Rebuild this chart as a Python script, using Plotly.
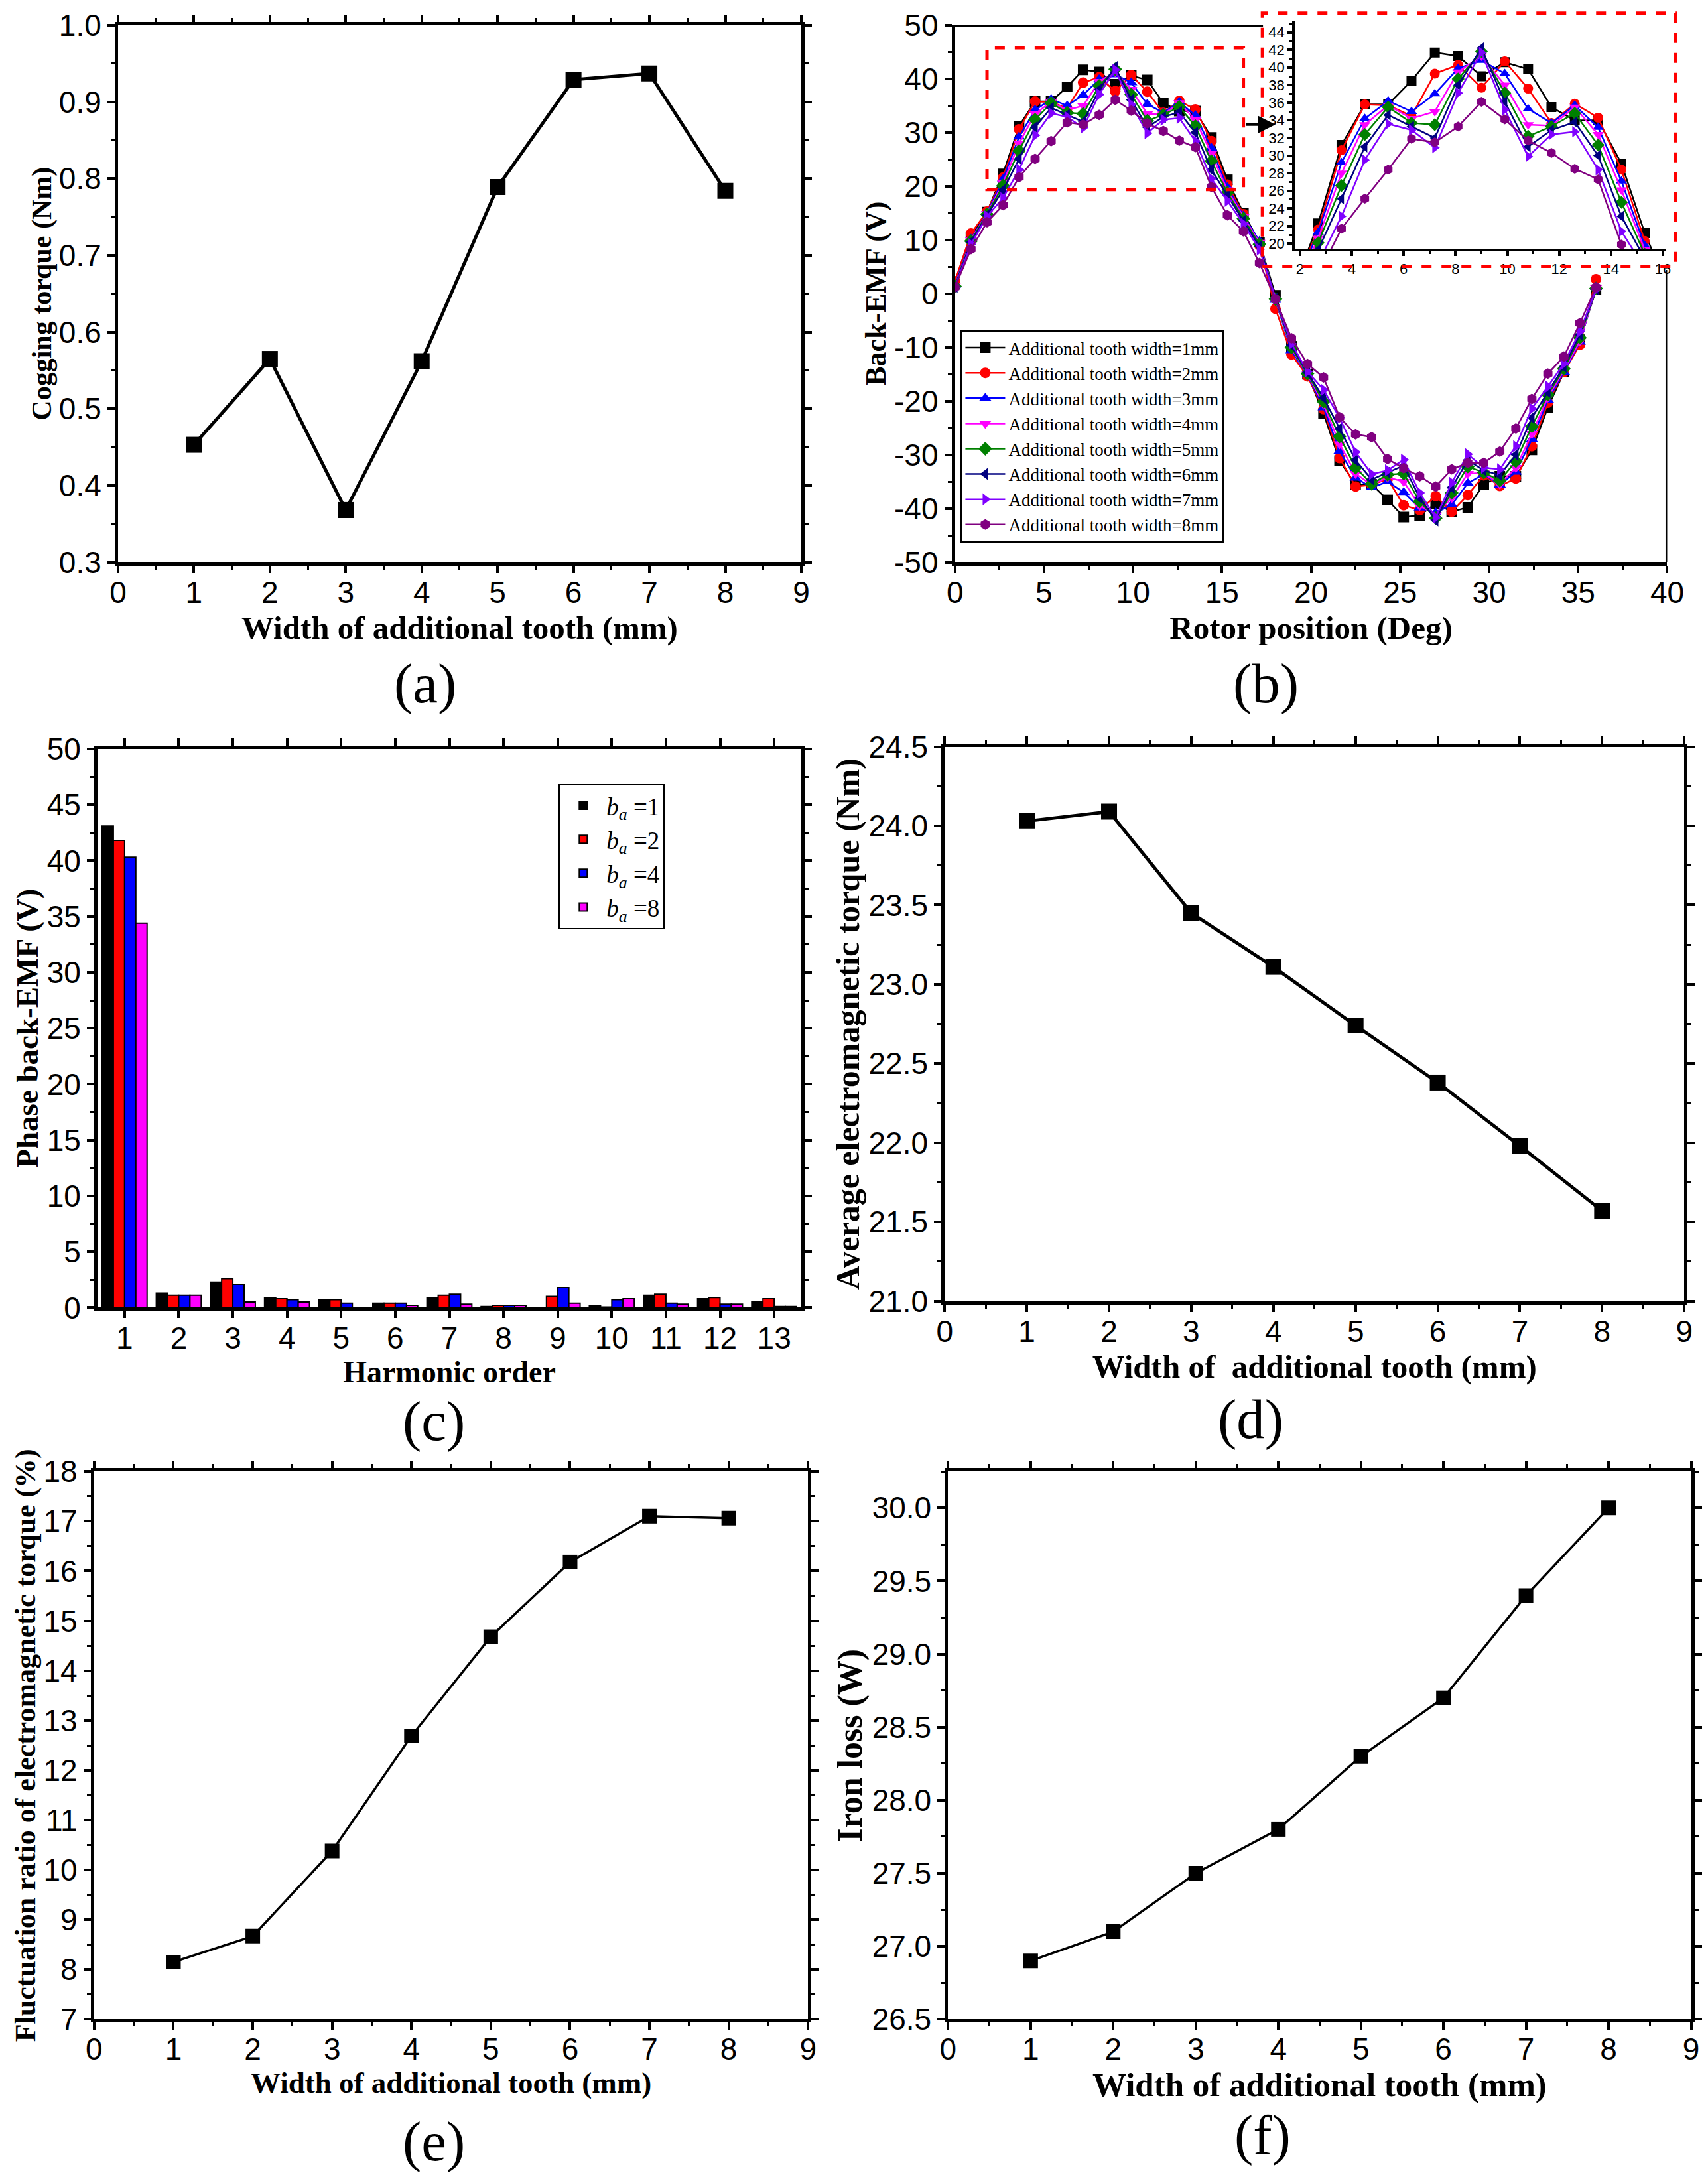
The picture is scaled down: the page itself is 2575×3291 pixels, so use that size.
import plotly.graph_objects as go

# (a), (d), (e), (f): quantities vs width of additional tooth
widths = [1, 2, 3, 4, 5, 6, 7, 8]
cogging_torque = [0.453, 0.565, 0.368, 0.562, 0.789, 0.929, 0.937, 0.784]
avg_torque = [24.03, 24.09, 23.45, 23.11, 22.74, 22.38, 21.98, 21.57]
fluct_ratio = [8.15, 8.67, 10.38, 12.69, 14.68, 16.18, 17.10, 17.06]
iron_loss = [26.9, 27.1, 27.5, 27.8, 28.3, 28.7, 29.4, 30.0]

# (b): back-EMF waveforms
rotor_pos = [0.0, 0.9, 1.8, 2.7, 3.6, 4.5, 5.4, 6.3, 7.2, 8.1, 9.0, 9.9, 10.8, 11.7,
             12.6, 13.5, 14.4, 15.3, 16.2, 17.1, 18.0, 18.9, 19.8, 20.7, 21.6, 22.5,
             23.4, 24.3, 25.2, 26.1, 27.0, 27.9, 28.8, 29.7, 30.6, 31.5, 32.4, 33.3,
             34.2, 35.1, 36.0]
emf_1mm = [1.8, 10.6, 15.2, 22.3, 31.2, 35.8, 35.8, 38.5, 41.7, 41.3, 39.0, 40.6, 39.8, 35.5,
           34.0, 34.0, 29.1, 21.2, 15.0, 9.6, -0.3,
           -9.8, -15.0, -22.3, -31.1, -35.6, -35.5, -38.4, -41.6, -41.3, -39.1, -40.6, -39.8,
           -35.5, -34.0, -34.0, -29.1, -21.2, -14.6, -8.6, 0.7]
emf_2mm = [2.3, 11.2, 15.3, 21.6, 30.6, 35.8, 35.7, 34.5, 39.3, 40.3, 37.7, 40.7, 37.6, 33.7,
           35.9, 34.3, 28.4, 20.3, 14.8, 9.0, -2.8,
           -11.3, -15.4, -21.5, -30.6, -35.9, -35.6, -34.5, -39.4, -40.3, -37.7, -40.6, -37.5,
           -33.8, -35.8, -34.4, -28.4, -20.3, -14.6, -9.5, 2.7]
emf_3mm = [1.6, 10.2, 15.0, 21.3, 29.2, 34.2, 36.2, 35.0, 37.0, 39.9, 40.8, 39.3, 35.3, 33.7,
           35.7, 33.2, 27.1, 19.8, 14.5, 9.8, -1.2,
           -10.6, -15.1, -21.2, -29.3, -34.3, -36.1, -35.0, -37.0, -39.9, -40.8, -39.3, -35.3,
           -33.6, -35.6, -33.2, -27.1, -19.8, -14.6, -9.0, 1.2]
emf_4mm = [1.5, 10.0, 14.9, 20.6, 28.0, 33.5, 35.7, 34.2, 35.0, 39.5, 41.3, 38.0, 33.5, 33.4,
           35.5, 32.4, 26.1, 19.3, 14.3, 9.5, -1.1,
           -10.2, -15.0, -20.6, -28.0, -33.5, -35.6, -34.2, -35.0, -39.5, -41.2, -38.0, -33.5,
           -33.4, -35.5, -32.4, -26.1, -19.3, -14.3, -8.8, 1.1]
emf_5mm = [1.4, 9.8, 14.8, 20.1, 26.6, 32.4, 35.5, 33.7, 33.5, 38.7, 41.8, 37.1, 32.2, 33.3,
           34.8, 31.2, 24.7, 18.8, 14.0, 9.2, -1.0,
           -10.0, -14.9, -20.1, -26.6, -32.4, -35.4, -33.7, -33.5, -38.7, -41.8, -37.1, -32.2,
           -33.3, -34.8, -31.2, -24.7, -18.8, -14.0, -8.2, 1.0]
emf_6mm = [1.3, 9.6, 14.6, 19.3, 25.1, 31.0, 34.6, 33.3, 32.0, 38.0, 42.2, 36.1, 31.0, 32.9,
           33.8, 30.0, 23.1, 18.3, 13.6, 8.8, -0.9,
           -9.6, -14.7, -19.4, -25.1, -31.0, -34.6, -33.3, -32.0, -38.0, -42.2, -36.1, -31.0,
           -32.9, -33.8, -30.0, -23.1, -18.3, -13.6, -7.6, 0.9]
emf_7mm = [1.2, 9.2, 14.4, 17.8, 23.1, 29.5, 33.6, 32.9, 30.9, 37.1, 41.7, 35.2, 29.9, 32.4,
           32.7, 28.4, 21.4, 17.3, 13.0, 8.2, -0.8,
           -9.3, -14.5, -17.9, -23.1, -29.5, -33.6, -32.9, -30.9, -37.1, -41.7, -35.2, -29.9,
           -32.4, -32.7, -28.4, -21.4, -17.3, -13.0, -7.0, 0.8]
emf_8mm = [1.2, 8.3, 13.3, 16.5, 21.7, 25.1, 28.4, 31.9, 31.5, 33.3, 36.1, 34.1, 31.7, 30.3,
           28.5, 27.3, 19.9, 14.6, 11.6, 5.7, -1.0,
           -8.3, -13.1, -15.6, -23.0, -26.2, -26.7, -30.8, -32.5, -34.0, -35.9, -32.7, -31.5,
           -31.5, -29.4, -25.1, -19.6, -14.9, -11.7, -5.5, 1.2]
emf_ticks = [-50, -40, -30, -20, -10, 0, 10, 20, 30, 40, 50]
emf_ticktext = ["-50", "-40", "-30", "-20", "-10", "0", "10", "20", "30", "40", "50"]

# (c): harmonic spectrum
harmonics = [1, 2, 3, 4, 5, 6, 7, 8, 9, 10, 11, 12, 13]
harm_ba1 = [43.1, 1.3, 2.3, 0.9, 0.7, 0.4, 0.9, 0.1, 0.0, 0.2, 1.1, 0.8, 0.5]
harm_ba2 = [41.8, 1.1, 2.6, 0.8, 0.7, 0.4, 1.1, 0.2, 1.0, 0.05, 1.2, 0.9, 0.8]
harm_ba4 = [40.3, 1.1, 2.1, 0.7, 0.4, 0.4, 1.2, 0.2, 1.8, 0.7, 0.4, 0.3, 0.1]
harm_ba8 = [34.4, 1.1, 0.5, 0.5, 0.0, 0.2, 0.3, 0.2, 0.4, 0.8, 0.3, 0.3, 0.1]

SANS = "Liberation Sans"
SERIF = "Liberation Serif"


# small nudge for the page offset of the rendered figure
def px(v):
    return v - 0.003


def py(v):
    return v + 0.0024


fig = go.Figure()


def add_black_line(y, xa, ya, lw, ms):
    fig.add_trace(go.Scatter(x=widths, y=y, xaxis=xa, yaxis=ya, mode="lines+markers",
                             line=dict(color="black", width=lw),
                             marker=dict(symbol="square", size=ms, color="black"),
                             showlegend=False))


add_black_line(cogging_torque, "x", "y", 5, 24)

emf_series = [("1mm", emf_1mm, "#000000", "square"),
              ("2mm", emf_2mm, "#FF0000", "circle"),
              ("3mm", emf_3mm, "#0000FF", "triangle-up"),
              ("4mm", emf_4mm, "#FF00FF", "triangle-down"),
              ("5mm", emf_5mm, "#008000", "diamond"),
              ("6mm", emf_6mm, "#000080", "triangle-left"),
              ("7mm", emf_7mm, "#8000FF", "triangle-right"),
              ("8mm", emf_8mm, "#800080", "hexagon")]
for name, vals, col, sym in emf_series:
    fig.add_trace(go.Scatter(x=rotor_pos, y=vals, xaxis="x2", yaxis="y2",
                             mode="lines+markers", name=f"Additional tooth width={name}",
                             line=dict(color=col, width=2.5),
                             marker=dict(symbol=sym, size=16, color=col),
                             legend="legend"))
for name, vals, col, sym in emf_series:
    fig.add_trace(go.Scatter(x=rotor_pos, y=vals, xaxis="x3", yaxis="y3",
                             mode="lines+markers", showlegend=False,
                             line=dict(color=col, width=2.5),
                             marker=dict(symbol=sym, size=15, color=col)))

bar_series = [("1", harm_ba1, "#000000"), ("2", harm_ba2, "#FF0000"),
              ("4", harm_ba4, "#0000FF"), ("8", harm_ba8, "#FF00FF")]
for b, vals, col in bar_series:
    fig.add_trace(go.Bar(x=harmonics, y=vals, xaxis="x4", yaxis="y4",
                         name=f"<i>b</i><sub><i>a</i></sub> ={b}",
                         marker=dict(color=col, line=dict(color="black", width=2)),
                         legend="legend2"))

add_black_line(avg_torque, "x5", "y5", 5, 24)
add_black_line(fluct_ratio, "x6", "y6", 3.5, 22)
add_black_line(iron_loss, "x7", "y7", 3.5, 22)


def axis(domain, rng, dtick, minor, anchor, title="", fmt=None, mirror="allticks",
         tsize=48, fsize=46, lw=5, tlen=11, lab_off=0, is_x=True):
    shift = px if is_x else py
    d = dict(domain=[shift(domain[0]), shift(domain[1])], range=rng, dtick=dtick,
             anchor=anchor, automargin=False, ticklabeloverflow="allow",
             showline=True, linecolor="black", linewidth=lw, mirror=mirror,
             ticks="outside", ticklen=tlen, tickwidth=4, tickcolor="black",
             showgrid=False, zeroline=False, ticklabelstandoff=lab_off,
             tickfont=dict(family=SANS, size=fsize, color="black"),
             title=dict(text=title, standoff=0,
                        font=dict(family=SERIF, size=tsize, color="black", weight="bold")))
    if minor:
        d["minor"] = dict(dtick=minor, ticks="outside", ticklen=int(tlen * 0.6),
                          tickwidth=3, tickcolor="black", showgrid=False)
    if fmt:
        d["tickformat"] = fmt
    return d


ya_dom = [0.7425, 0.9885]
yc_dom = [0.401, 0.657]
ye_dom = [0.075, 0.326]

yaxis2 = axis(ya_dom, [-50, 50], 10, 5, "x2", "Back-EMF (V)", mirror=False, tsize=44,
              is_x=False)
yaxis2.update(tickmode="array", tickvals=emf_ticks, ticktext=emf_ticktext)

fig.update_layout(
    width=2575, height=3291,
    margin=dict(l=0, r=0, t=0, b=0),
    paper_bgcolor="white", plot_bgcolor="white",
    font=dict(family=SANS, color="black"),
    barmode="group", bargap=0.17, bargroupgap=0,
    # (a)
    xaxis=axis([0.069, 0.469], [0, 9], 1, 0.5, "y", "Width of additional tooth (mm)",
               tsize=49, lab_off=-10),
    yaxis=axis(ya_dom, [0.3, 1.0], 0.1, 0.05, "x", "Cogging torque (Nm)", fmt=".1f", tsize=42,
               is_x=False),
    # (b)
    xaxis2=axis([0.559, 0.976], [0, 40], 5, 2.5, "y2", "Rotor position (Deg)", mirror=False,
                tsize=49, lab_off=-10),
    yaxis2=yaxis2,
    # (b) inset
    xaxis3=axis([0.758, 0.975], [1.8, 16.1], 2, 1, "y3", mirror=False, fsize=22, lw=4, tlen=7),
    yaxis3=axis([0.886, 0.9905], [19.4, 45.3], 2, 1, "x3", mirror=False, fsize=22, lw=4, tlen=7,
                is_x=False),
    # (c)
    xaxis4=axis([0.057, 0.469], [0.5, 13.5], 1, None, "y4", "Harmonic order", tsize=46,
                lab_off=-10),
    yaxis4=axis(yc_dom, [0, 50], 5, 2.5, "x4", "Phase back-EMF (V)", tsize=47, is_x=False),
    # (d)
    xaxis5=axis([0.553, 0.986], [0, 9], 1, 0.5, "y5", "Width of  additional tooth (mm)",
                tsize=49, lab_off=-10),
    yaxis5=axis([0.404, 0.658], [21.0, 24.5], 0.5, 0.25, "x5",
                "Average electromagnetic torque (Nm)", fmt=".1f", tsize=50, is_x=False),
    # (e)
    xaxis6=axis([0.055, 0.473], [0, 9], 1, 0.5, "y6", "Width of additional tooth (mm)",
                tsize=45, lab_off=-10),
    yaxis6=axis(ye_dom, [7, 18], 1, 0.5, "x6",
                "Fluctuation ratio of electromagnetic torque (%)", tsize=44, is_x=False),
    # (f)
    xaxis7=axis([0.555, 0.990], [0, 9], 1, 0.5, "y7", "Width of additional tooth (mm)",
                tsize=51, lab_off=-10),
    yaxis7=axis(ye_dom, [26.5, 30.25], 0.5, 0.25, "x7", "Iron loss (W)", fmt=".1f", tsize=52,
                is_x=False),
    legend=dict(x=px(0.562), y=py(0.849), xanchor="left", yanchor="top",
                bgcolor="white", bordercolor="black", borderwidth=3,
                font=dict(family=SERIF, size=27, color="black"),
                tracegroupgap=0, itemwidth=60),
    legend2=dict(x=px(0.327), y=py(0.641), xanchor="left", yanchor="top",
                 bgcolor="white", bordercolor="black", borderwidth=2,
                 font=dict(family=SERIF, size=37, color="black"),
                 tracegroupgap=0, itemwidth=60),
)

# partial frame of (b) (the inset covers the top-right corner)
fig.add_shape(type="line", xref="x2", yref="y2", x0=0, x1=17.3, y0=50, y1=50,
              line=dict(color="black", width=5))
fig.add_shape(type="line", xref="x2", yref="y2", x0=40, x1=40, y0=-50, y1=4.4,
              line=dict(color="black", width=5))
# red dashed zoom boxes
fig.add_shape(type="rect", xref="x2", yref="y2", x0=1.8, x1=16.2, y0=19.4, y1=45.8,
              line=dict(color="red", width=5, dash="dash"))
fig.add_shape(type="rect", xref="paper", yref="paper", x0=px(0.739), x1=px(0.981),
              y0=py(0.878), y1=py(0.994), line=dict(color="red", width=5, dash="dash"))
fig.add_annotation(x=18.0, y=31.5, ax=16.3, ay=31.5, xref="x2", yref="y2",
                   axref="x2", ayref="y2", text="", showarrow=True,
                   arrowhead=2, arrowwidth=4, arrowsize=1.3, arrowcolor="black")

# panel letters
for lbl, lx, ly in [("(a)", 0.249, 0.687), ("(b)", 0.741, 0.687), ("(c)", 0.254, 0.349),
                    ("(d)", 0.732, 0.350), ("(e)", 0.254, 0.019), ("(f)", 0.739, 0.022)]:
    fig.add_annotation(text=lbl, x=px(lx), y=py(ly), xref="paper", yref="paper",
                       showarrow=False, xanchor="center", yanchor="middle",
                       font=dict(family=SERIF, size=85, color="black"))

fig.write_html("out.html")
